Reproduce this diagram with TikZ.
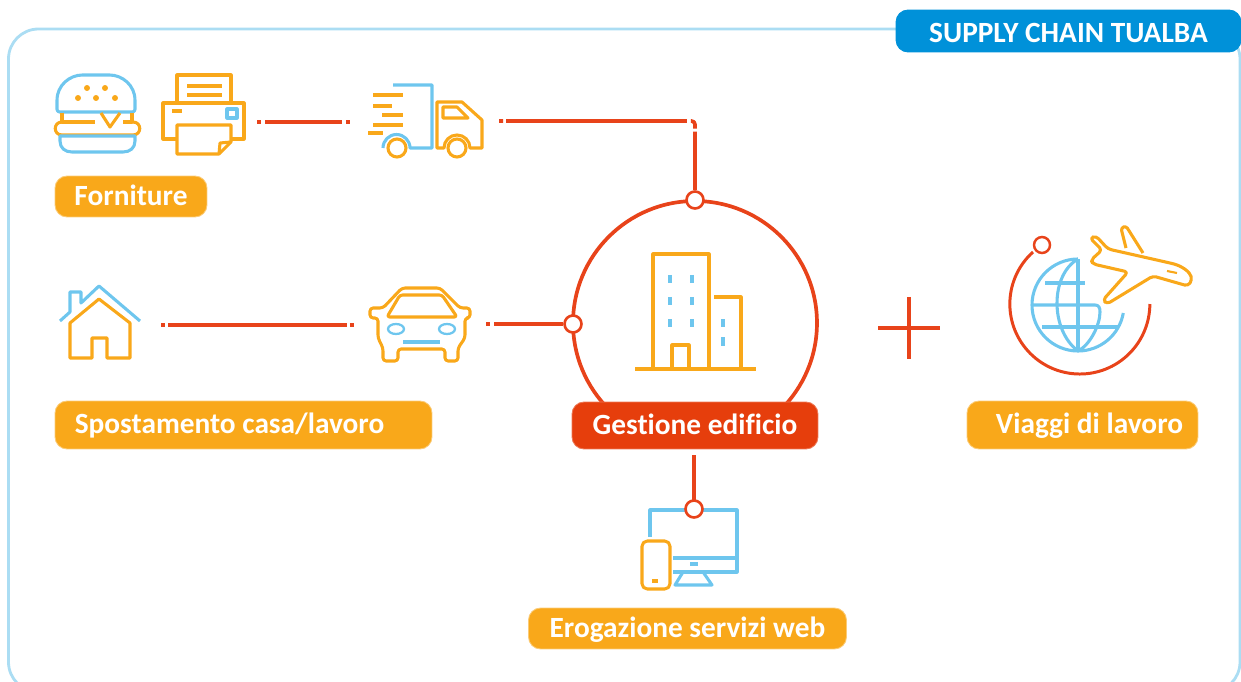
\documentclass[tikz,border=0pt]{standalone}
\usepackage{fontspec}
\setmainfont{Carlito}[Ligatures=NoCommon]
\definecolor{tuorange}{HTML}{F9A81A}
\definecolor{tublue}{HTML}{6EC6EE}
\definecolor{tured}{HTML}{E8431A}
\definecolor{tuframe}{HTML}{ABDDF3}
\definecolor{tutitle}{HTML}{0091D9}
\definecolor{tuhub}{HTML}{E63E0C}
\tikzset{
	pill/.style={rounded corners=.24cm, fill=tuorange, draw=tuorange!60, line width=.5pt, text=white, font=\fontsize{16.7}{19}\selectfont\bfseries, inner sep=0pt, text height=.39cm, text depth=.03cm},
	orline/.style={draw=tuorange, line width=1.75pt, line join=round},
	blline/.style={draw=tublue, line width=1.75pt, line join=round},
	conn/.style={draw=tured, line width=2.1pt, line join=round},
	junct/.style={circle, draw=tured, fill=white, line width=1.5pt, minimum size=.34cm, inner sep=0pt},
}
\begin{document}
\begin{tikzpicture}[x=.02cm, y=-.02cm]
	\useasboundingbox (0,0) rectangle (1241,682);
	\begin{scope}
		\clip (0,0) rectangle (1241,682);
		\draw[tuframe, line width=1.6pt, rounded corners=.6cm] (8.5,29) rectangle (1240,692);
	\end{scope}
	\node[pill, fill=tutitle, draw=tutitle, minimum width=6.9cm, minimum height=.84cm, text height=.5cm, text depth=.02cm] (title) at (1068.5,31) {SUPPLY CHAIN TUALBA};

	\draw[blline, rounded corners=1.5pt] (57,112) -- (57,103) .. controls (57,85) and (70,75) .. (85,75) -- (107,75) .. controls (122,75) and (135,85) .. (135,103) -- (135,112) -- cycle;
	\foreach \i\j in {87/88,105/88,78/98,96/98,115/98}{
		\fill[tuorange] (\i,\j) circle (1.7pt);
	}
	\draw[orline] (62,113) -- (62,122) -- (95,122);
	\draw[orline] (101,113) -- (110,127) -- (120,113);
	\draw[orline] (123,122) -- (132,122) -- (132,113);
	\draw[orline] (62,122) .. controls (53,122) and (53,135) .. (62,135) -- (133,135) .. controls (142,135) and (142,122) .. (133,122);
	\draw[blline] (60,136) -- (135,136) -- (135,141) .. controls (135,148) and (130,152) .. (123,152) -- (72,152) .. controls (65,152) and (60,148) .. (60,141) -- cycle;

	\draw[orline] (177,103) -- (177,75) -- (231,75) -- (231,103);
	\draw[orline] (187,86) -- (222,86) (187,95) -- (222,95) (172,111) -- (182,111);
	\draw[orline] (177,139) -- (163,139) -- (163,103) -- (244,103) -- (244,139) -- (231,139);
	\draw[blline] (227,109) rectangle (237,118);
	\draw[orline] (177,125) -- (177,154) -- (219,154) -- (231,142) -- (231,125) -- cycle;
	\draw[orline] (219,154) -- (220,143) -- (231,142);

	\draw[blline] (383,148) arc[start angle=180, end angle=360, radius=13.5] -- (432,148) -- (432,85) -- (393,85);
	\foreach \i\j\k in {373/403/95,373/392/106,382/403/115,373/403/125,368/383/133}{
		\draw[orline] (\i,\k) -- (\j,\k);
	}
	\draw[orline] (397,148) circle (9) (457,148) circle (9);
	\draw[orline] (437,148) -- (437,102) -- (462,102) -- (482,120) -- (482,148) -- (470,148) arc[start angle=0, end angle=-180, radius=13] -- cycle;
	\draw[orline] (443,107) -- (457,107) -- (468,118) -- (443,118) -- cycle;

	\node[pill, minimum width=3.04cm, minimum height=.82cm] (forn) at (131,196.5) {Forniture};

	\coordinate (fa) at (257,122);
	\coordinate (fb) at (350,122);
	\draw[conn, dash pattern=on .08cm off .08cm on 1.54cm off .08cm on .08cm] (fa) -- (fb);

	\draw[blline] (60,321) -- (70,312) -- (70,292) -- (81,292) -- (81,303) -- (99,286) -- (140,321);
	\draw[orline] (70,358) -- (70,323) -- (99,299) -- (130,323) -- (130,358) -- (107,358) -- (107,338) -- (92,338) -- (92,358) -- cycle;

	\coordinate (ca) at (161,325);
	\coordinate (cb) at (354,325);
	\draw[conn, dash pattern=on .08cm off .06cm on 3.58cm off .06cm on .08cm] (ca) -- (cb);

	\draw[orline, rounded corners=1.8pt] (402,288) -- (440,288) -- (460,308) -- (470,308) -- (470,318) -- (465,318) -- (465,338) -- (458,348) -- (458,361) -- (445,361) -- (445,349) -- (398,349) -- (398,361) -- (383,361) -- (383,348) -- (378,338) -- (378,318) -- (370,318) -- (370,308) -- (383,308) -- cycle;
	\draw[orline, rounded corners=1.5pt] (387,317) -- (457,317) -- (442,295) -- (400,295) -- cycle;
	\draw[blline, line width=1.3pt] (396,329) ellipse (8 and 5) (447,329) ellipse (8 and 5);
	\draw[blline, line width=2pt] (403,342) -- (440,342);

	\node[pill, minimum width=7.54cm, minimum height=.96cm] (casa) at (243.5,425) {Spostamento casa/lavoro\hspace*{.56cm}};

	\node[circle, draw=tured, line width=2.1pt, minimum size=4.88cm, inner sep=0pt] (hub) at (695,323) {};
	\draw[orline] (653,368) -- (653,254) -- (709,254) -- (709,368);
	\draw[orline] (714,297) -- (741,297) -- (741,368);
	\draw[orline] (635,369) -- (756,369);
	\draw[orline] (672,368) -- (672,345) -- (689,345) -- (689,368);
	\foreach \i in {670,692}{
		\foreach \j in {275,297,319}{
			\draw[blline, line width=2.6pt] (\i,\j) -- (\i,\j+8);
		}
	}
	\draw[blline, line width=2.6pt] (723,319) -- (723,327) (723,337) -- (723,346);

	\node[pill, fill=tuhub, draw=tuhub!70, minimum width=4.92cm, minimum height=.94cm] (gest) at (695,425.5) {Gestione edificio};

	\node[junct] (jtop) at (695,200) {};
	\node[junct] (jleft) at (573,324) {};
	\coordinate (ta) at (499,121);
	\coordinate (la) at (486,324);
	\draw[conn, dash pattern=on .08cm off .06cm on 3.62cm off .08cm on .2cm off .06cm on 5cm, rounded corners=2pt] (ta) -- (695,121) -- (jtop);
	\draw[conn, dash pattern=on .08cm off .08cm on 3cm] (la) -- (jleft);
	\draw[blline] (650,537) -- (650,510) -- (737,510) -- (737,572) -- (673,572);
	\coordinate (ba) at (694,455);
	\draw[conn] (ba) -- (694,500);
	\node[junct] (jbot) at (694,509) {};
	\draw[blline] (673,558) -- (737,558) (690,564) -- (698,564);
	\draw[blline] (683,572) -- (675,585) -- (712,585) -- (703,572);
	\draw[orline, rounded corners=3pt] (642,541) rectangle (670,589);
	\draw[orline] (652,581) -- (658,581);

	\node[pill, minimum width=6.36cm, minimum height=.82cm] (web) at (687.5,628.5) {Erogazione servizi web};

	\coordinate (pa) at (878,328);
	\coordinate (pb) at (940,328);
	\coordinate (pc) at (909,297);
	\coordinate (pd) at (909,359);
	\draw[conn] (pa) -- (pb);
	\draw[conn] (pc) -- (pd);

	\node[circle, draw=tured, fill=white, line width=1.4pt, minimum size=.32cm, inner sep=0pt] (jplane) at (1042,245) {};
	\draw[conn, line width=1.7pt] (1033,252) arc[start angle=-132, end angle=-360, radius=70];
	\draw[blline] (1078,259) arc[start angle=-90, end angle=-180, radius=46] arc[start angle=-180, end angle=-270, radius=46] arc[start angle=-270, end angle=-350, radius=46];
	\draw[blline] (1078,259) -- (1078,351);
	\draw[blline] (1078,259) .. controls (1050,275) and (1050,330) .. (1078,351);
	\draw[blline] (1078,351) .. controls (1090,345) and (1100,325) .. (1100,312) .. controls (1100,308) and (1099,305) .. (1095,305) -- (1033,305);
	\draw[blline] (1045,283) -- (1085,283) (1042,327) -- (1118,327);
	\draw[orline, rounded corners=2pt] (1102,250) -- (1090,238) -- (1096,236) -- (1108,249) -- (1170,263) .. controls (1182,266) and (1190,272) .. (1192,280) -- (1188,286) -- (1153,276) -- (1107,304) -- (1103,300) -- (1128,272) -- (1093,264) -- (1091,260) -- cycle;
	\draw[orline, rounded corners=1.5pt] (1126,248) -- (1121,228) -- (1126,226) -- (1143,253);
	\draw[orline, line width=1.2pt] (1167,271) -- (1177,273);

	\node[pill, minimum width=4.62cm, minimum height=.96cm] (viag) at (1082.5,425) {\hspace*{.28cm}Viaggi di lavoro};
\end{tikzpicture}
\end{document}
